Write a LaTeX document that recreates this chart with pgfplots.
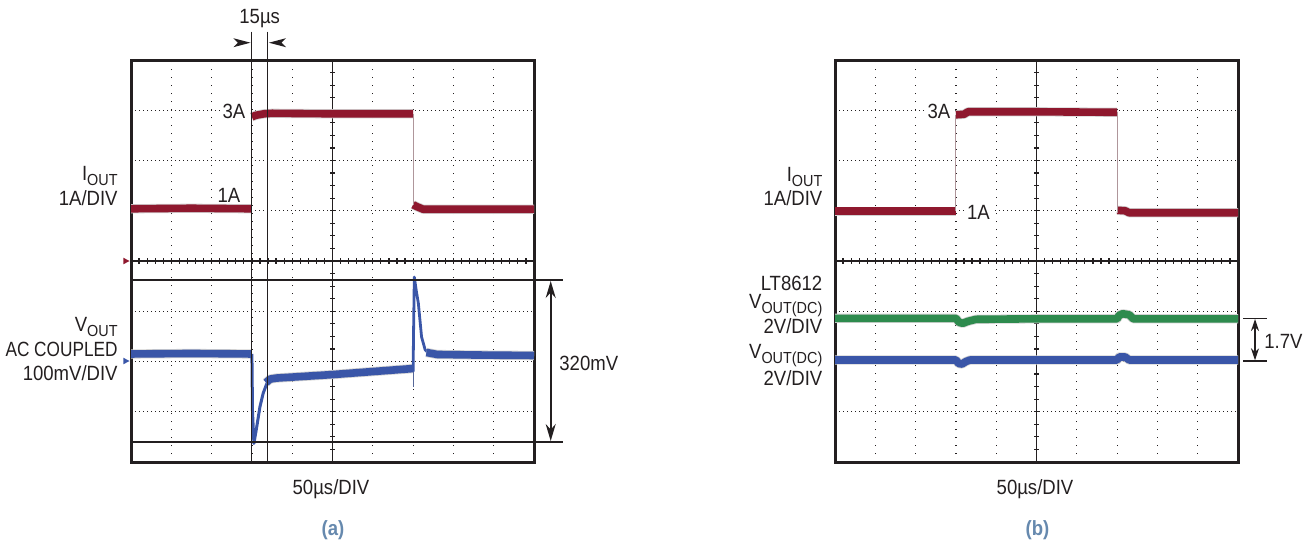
\documentclass[border=0pt]{standalone}
\usepackage{pgfplots}
\pgfplotsset{compat=1.18}
\usepackage{fontspec}
\setmainfont{Liberation Sans}[FakeStretch=0.9]
\usetikzlibrary{arrows.meta}
\definecolor{tred}{RGB}{143,24,46}
\definecolor{tblue}{RGB}{58,86,168}
\definecolor{tgreen}{RGB}{46,139,78}
\definecolor{capblue}{RGB}{102,137,174}
\definecolor{ink}{RGB}{35,31,32}
\definecolor{edge}{RGB}{175,150,155}
\newcommand\sub[1]{\raisebox{-2.5pt}{\fontsize{8}{8}\selectfont #1}}
\pgfplotsset{scopeaxis/.style={
  width=201.5pt, height=201pt, scale only axis, anchor=south west,
  xmin=0,xmax=10,ymin=-4,ymax=4,
  xtick={1,...,9}, ytick={-3,...,3},
  xticklabels={}, yticklabels={},
  major tick length=0pt, tick style={draw=none},
  grid=major,
  x grid style={ink, line width=0.6pt, dash pattern=on 0.7pt off 3.3pt},
  y grid style={ink, line width=0.6pt, dash pattern=on 0.6pt off 1.4pt},
  axis line style={line width=1.5pt, ink},
  clip=true,
},
band/.style={line width=3.8pt, line join=round, line cap=butt, preaction={draw=gray!35, line width=4.6pt}},
thin/.style={line width=0.55pt},
}
\begin{document}
\begin{tikzpicture}[font=\fontsize{10.3}{12}\selectfont, text=ink]
\path[use as bounding box] (0,0) rectangle (655.5pt,-273.5pt);
% centre graticule
\begin{scope}[x=0.5pt,y=-0.5pt, ink]
\foreach \L in {131,835} {
  \draw[line width=0.8pt] (\L,261) -- ({\L+403},261);
  \draw[line width=0.8pt] ({\L+201.5},60) -- ({\L+201.5},462);
  \foreach \k in {1,...,49} \draw[line width=0.6pt] ({\L+\k*8.06},258) -- ({\L+\k*8.06},264);
  \foreach \k in {1,...,31} \draw[line width=0.6pt] ({\L+199},{60+\k*12.5625}) -- ({\L+204},{60+\k*12.5625});
}
\end{scope}
% ---------------- panel (a)
\begin{axis}[scopeaxis, at={(65.5pt,-231pt)}]
% I_OUT
\addplot[tred, band] coordinates {(0,1.04) (1.5,1.05) (2.99,1.04)};
\addplot[tred, band] coordinates {(3.0,2.87) (3.1,2.90) (3.3,2.93) (3.5,2.94) (5,2.93) (7.0,2.93)};
\addplot[tred, band] coordinates {(7.0,1.12) (7.1,1.08) (7.25,1.03) (8.5,1.03) (10,1.03)};
\addplot[edge, thin] coordinates {(3.0,1.04) (3.0,2.87)};
\addplot[edge, thin] coordinates {(7.0,2.93) (7.0,1.12)};
% V_OUT
\addplot[tblue, band] coordinates {(0,-1.85) (1.5,-1.84) (2.99,-1.85)};
\addplot[tblue, line width=1.5pt, line join=round] coordinates {(3.0,-1.85) (3.015,-3.0) (3.05,-3.63) (3.12,-3.3) (3.2,-2.9) (3.28,-2.63) (3.37,-2.44) (3.45,-2.37)};
\addplot[tblue, band] coordinates {(3.35,-2.42) (3.45,-2.35) (3.6,-2.33) (5,-2.26) (7.0,-2.14)};
\addplot[tblue!60!gray, thin] coordinates {(7.0,-2.14) (7.0,-2.5)};
\addplot[tblue, line width=1.4pt, line join=round] coordinates {(7.0,-2.2) (7.01,-1.5) (7.03,-0.32) (7.08,-0.6) (7.13,-0.84) (7.21,-1.51) (7.30,-1.77) (7.4,-1.84)};
\addplot[tblue, band] coordinates {(7.33,-1.82) (7.6,-1.86) (8.5,-1.87) (10,-1.88)};
\end{axis}
% ---------------- panel (b)
\begin{axis}[scopeaxis, at={(417.5pt,-231pt)}]
\addplot[tred, band] coordinates {(0,0.99) (1.5,0.99) (3.0,0.99)};
\addplot[tred, band] coordinates {(3.0,2.91) (3.2,2.92) (3.3,2.97) (5,2.97) (7.0,2.96)};
\addplot[tred, band] coordinates {(7.0,1.01) (7.2,1.0) (7.3,0.96) (8.5,0.96) (10,0.96)};
\addplot[edge, thin] coordinates {(3.0,0.99) (3.0,2.91)};
\addplot[edge, thin] coordinates {(7.0,2.96) (7.0,0.95)};
\addplot[tgreen, band] coordinates {(0,-1.14) (1.5,-1.14) (3.0,-1.14) (3.08,-1.22) (3.17,-1.24) (3.3,-1.2) (3.5,-1.16) (5,-1.15) (7.0,-1.15) (7.05,-1.08) (7.14,-1.05) (7.3,-1.07) (7.4,-1.15) (8.5,-1.15) (10,-1.15)};
\addplot[tblue, band] coordinates {(0,-1.97) (1.5,-1.97) (3.0,-1.97) (3.07,-2.04) (3.15,-2.05) (3.25,-2.0) (3.35,-1.97) (5,-1.97) (7.0,-1.97) (7.05,-1.91) (7.2,-1.91) (7.3,-1.97) (8.5,-1.97) (10,-1.97)};
\end{axis}
% ---------------- annotations
\begin{scope}[x=0.5pt,y=-0.5pt]
% triangles (a)
\fill[tred] (123.3,257.7) -- (129.5,261) -- (123.3,264.3) -- cycle;
\fill[tblue] (123.3,357.7) -- (129.5,361) -- (123.3,364.3) -- cycle;
% cursors (a)
\draw[ink, line width=0.65pt] (251.7,31.7) -- (251.7,462);
\draw[ink, line width=0.65pt] (267.7,31.7) -- (267.7,462);
\draw[ink, line width=0.65pt] (131,280) -- (563,280);
\draw[ink, line width=0.65pt] (131,442) -- (563,442);
\fill[ink] (250.5,42.7) -- (233.3,38.2) -- (237.8,42.7) -- (233.3,47.2) -- cycle;
\fill[ink] (268.9,42.7) -- (286,38.2) -- (281.5,42.7) -- (286,47.2) -- cycle;
\node[anchor=center, inner sep=0] at (259.7,18.3) {15µs};
\draw[ink, line width=0.8pt, {Stealth[length=8.5pt,width=5pt]}-{Stealth[length=8.5pt,width=5pt]}] (550.7,281) -- (550.7,441);
\node[anchor=base west, inner sep=0] at (559,370) {320mV};
% labels (a)
\node[anchor=base east, inner sep=1.5pt, fill=white] at (248.7,118.3) {3A};
\node[anchor=base east, inner sep=0] at (240.7,202.3) {1A};
\node[anchor=base east, inner sep=0] at (118,180) {I\sub{OUT}};
\node[anchor=base east, inner sep=0] at (118,205) {1A/DIV};
\node[anchor=base east, inner sep=0] at (118,331) {V\sub{OUT}};
\node[anchor=base east, inner sep=0] at (118,356.7) {\scalebox{0.93}[1]{AC COUPLED}};
\node[anchor=base east, inner sep=0] at (118,380.7) {100mV/DIV};
\node[anchor=base, inner sep=0] at (331,494) {50µs/DIV};
\node[anchor=center, inner sep=0, text=capblue, font=\fontsize{10.3}{12}\selectfont\bfseries] at (333,530) {(a)};
% labels (b)
\node[anchor=base east, inner sep=1.5pt, fill=white] at (953.7,118.3) {3A};
\node[anchor=base west, inner sep=1.5pt, fill=white] at (963.7,219) {1A};
\node[anchor=base east, inner sep=0] at (822.7,181) {I\sub{OUT}};
\node[anchor=base east, inner sep=0] at (822.7,205) {1A/DIV};
\node[anchor=base east, inner sep=0] at (822.7,290) {LT8612};
\node[anchor=base east, inner sep=0] at (822.7,308) {V\sub{OUT(DC)}};
\node[anchor=base east, inner sep=0] at (822.7,333) {2V/DIV};
\node[anchor=base east, inner sep=0] at (822.7,358) {V\sub{OUT(DC)}};
\node[anchor=base east, inner sep=0] at (822.7,385) {2V/DIV};
\draw[ink, line width=0.65pt] (1243,318.3) -- (1266.7,318.3);
\draw[ink, line width=0.65pt] (1243,361) -- (1266.7,361);
\draw[ink, line width=0.8pt, {Stealth[length=6pt,width=4pt]}-{Stealth[length=6pt,width=4pt]}] (1255,319) -- (1255,360.3);
\node[anchor=base west, inner sep=0] at (1264,348.3) {1.7V};
\node[anchor=base, inner sep=0] at (1035,494) {50µs/DIV};
\node[anchor=center, inner sep=0, text=capblue, font=\fontsize{10.3}{12}\selectfont\bfseries] at (1037.5,530) {(b)};
\end{scope}
\end{tikzpicture}
\end{document}
